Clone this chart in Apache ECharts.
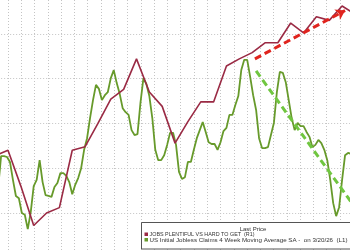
<!DOCTYPE html>
<html><head><meta charset="utf-8">
<script src="https://cdn.jsdelivr.net/npm/echarts@6/dist/echarts.min.js"></script>
<style>html,body{margin:0;padding:0;background:#fff}#c{width:350px;height:250px}</style>
</head><body><div id="c"></div>
<script>
// Red series: JOBS PLENTIFUL VS HARD TO GET (R1), monthly, index = month number
const redValues = [16.4, 17.0, 13.0, 8.6, 10.0, 10.6, 17.0, 17.4, 20.0, 22.7, 23.8, 27.2, 23.5, 21.9, 17.8, 20.2, 22.4, 22.4, 26.4, 27.2, 27.9, 29.0, 29.0, 31.2, 30.1, 31.9, 31.5, 33.1, 32.2];
// Green series: US Initial Jobless Claims 4 Week MA (L1), weekly, starting at week 1
const greenStartWeek = 1;
const greenValues = [
 215.6, 222.7, 222.7, 222.5, 221.4, 217.4, 213.8, 213.3, 210.0, 209.6,
 206.4, 210.2, 216.0, 217.4, 221.8, 216.9, 214.0, 213.8, 213.6, 215.8,
 216.7, 218.9, 218.9, 218.3, 216.9, 214.2, 216.3, 217.8, 220.0, 224.1,
 226.7, 231.2, 235.2, 238.6, 237.7, 235.2, 236.3, 237.0, 240.1, 241.9,
 239.0, 236.6, 233.4, 232.5, 231.9, 228.5, 227.4, 227.6, 234.6, 240.1,
 238.8, 236.1, 231.2, 224.1, 221.8, 221.8, 222.9, 225.2, 227.9, 227.9,
 225.2, 219.2, 217.6, 218.0, 221.4, 221.4, 224.1, 226.7, 228.5, 230.3,
 228.1, 225.8, 225.4, 225.4, 224.1, 225.8, 228.3, 229.0, 231.9, 231.9,
 234.1, 236.1, 241.9, 244.2, 244.2, 240.4, 236.3, 233.0, 226.7, 224.5,
 224.5, 224.7, 227.4, 230.1, 237.0, 241.5, 241.3, 239.2, 235.2, 231.2,
 228.5, 230.1, 229.4, 229.4, 228.1, 227.0, 224.7, 225.2, 226.3, 225.6,
 224.1, 221.8, 217.4, 212.2, 209.3, 211.3, 217.4, 222.9, 223.4, 223.2
];
// Annotation arrows: [week, value] start and end
const redArrow = [[87.6, 27.2], [118.0, 32.6]];
const greenArrow = [[88.0, 241.7], [119.9, 212.6]];
// Legend texts
const legendTitle = 'Last Price';
const legendRows = ['JOBS PLENTIFUL VS HARD TO GET  (R1)', 'US Initial Jobless Claims 4 Week Moving Average SA -  on 3/20/26  (L1)'];

const RED = '#9a2a44', GREEN = '#679a2b', RED_A = '#e0241e', GREEN_A = '#70c640';
const WEEKS_PER_MONTH = 52 / 12;
const FONT = '"Liberation Sans", Arial, sans-serif';

function fitScale(text, size, target) {
  const cv = document.createElement('canvas').getContext('2d');
  cv.font = size + 'px ' + FONT;
  return target / cv.measureText(text).width;
}

const chart = echarts.init(document.getElementById('c'), null, {renderer: 'canvas'});
const grid = {type: [1, 2], color: '#c4c4c4', width: 1};
chart.setOption({
  animation: false,
  backgroundColor: '#fff',
  grid: [
    {left: -4.85, top: -11, width: 355.85, height: 313.6, outerBoundsMode: 'none', containLabel: false},
    {left: -5.28, top: 0, width: 371.84, height: 250, outerBoundsMode: 'none', containLabel: false}
  ],
  xAxis: [
    {gridIndex: 0, type: 'value', min: 0, max: 120, show: false},
    {gridIndex: 1, type: 'value', min: 0, max: 28, interval: 1,
     axisLine: {show: false}, axisTick: {show: false}, axisLabel: {show: false},
     splitLine: {show: true, lineStyle: grid}}
  ],
  yAxis: [
    {gridIndex: 0, type: 'value', min: 190, max: 260, interval: 10,
     axisLine: {show: false}, axisTick: {show: false}, axisLabel: {show: false},
     splitLine: {show: true, lineStyle: grid}},
    {gridIndex: 0, type: 'value', min: 0, max: 35, interval: 5, show: false},
    {gridIndex: 1, type: 'value', min: 0, max: 1, show: false}
  ],
  series: [
    {type: 'line', xAxisIndex: 0, yAxisIndex: 0, symbol: 'none', z: 2,
     data: greenValues.map((v, i) => [greenStartWeek + i, v]),
     lineStyle: {color: GREEN, width: 1.8},
     markLine: {silent: true, symbol: ['none', 'none'], label: {show: false},
       lineStyle: {color: GREEN_A, width: 3, type: [7, 4]},
       data: [[{coord: greenArrow[0]}, {coord: greenArrow[1]}]]}},
    {type: 'line', xAxisIndex: 0, yAxisIndex: 1, symbol: 'none', z: 3,
     data: redValues.map((v, i) => [i * WEEKS_PER_MONTH, v]),
     lineStyle: {color: RED, width: 1.6},
     markLine: {silent: true, symbol: ['none', 'arrow'], symbolSize: 9, label: {show: false},
       lineStyle: {color: RED_A, width: 3, type: [7, 4]},
       data: [[{coord: redArrow[0]}, {coord: redArrow[1]}]]}}
  ],
  graphic: [
    {type: 'rect', z: 100, shape: {x: 141.5, y: 222.5, width: 220, height: 26.5},
     style: {fill: '#fff', stroke: '#555', lineWidth: 1}},
    {type: 'text', z: 101, x: 253, y: 229, style: {text: legendTitle, fill: '#333', font: '6px ' + FONT, align: 'center', verticalAlign: 'middle'}},
    {type: 'rect', z: 101, shape: {x: 144.5, y: 232.5, width: 3.5, height: 3.5}, style: {fill: RED}},
    {type: 'rect', z: 101, shape: {x: 144.5, y: 238, width: 3.5, height: 3.5}, style: {fill: GREEN}},
    {type: 'text', z: 101, x: 149.5, y: 234.5, scaleX: fitScale(legendRows[0], 6, 105), style: {text: legendRows[0], fill: '#333', font: '6px ' + FONT, align: 'left', verticalAlign: 'middle'}},
    {type: 'text', z: 101, x: 149.5, y: 240, scaleX: fitScale(legendRows[1], 6, 198), style: {text: legendRows[1], fill: '#333', font: '6px ' + FONT, align: 'left', verticalAlign: 'middle'}}
  ]
});
</script></body></html>
